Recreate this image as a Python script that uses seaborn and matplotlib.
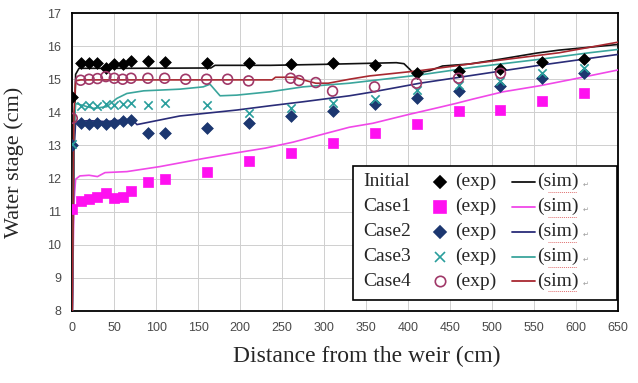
import numpy as np
import pandas as pd
import seaborn as sns
import matplotlib.pyplot as plt
from matplotlib.patches import Rectangle

# measured points (exp)
x_exp = [0, 10, 20, 30, 40, 50, 60, 70, 90, 110, 160, 210, 260, 310, 360, 410, 460, 510, 560, 610]
initial_exp = [14.47, 15.48, 15.48, 15.48, 15.33, 15.45, 15.45, 15.55, 15.55, 15.52,
               15.48, 15.50, 15.47, 15.50, 15.43, 15.20, 15.25, 15.31, 15.51, 15.60]
case1_exp = [11.07, 11.33, 11.37, 11.45, 11.55, 11.40, 11.45, 11.63, 11.89, 11.98,
             12.21, 12.54, 12.78, 13.06, 13.37, 13.64, 14.04, 14.07, 14.35, 14.59]
case2_exp = [13.00, 13.69, 13.65, 13.69, 13.65, 13.69, 13.75, 13.77, 13.38, 13.38,
             13.53, 13.67, 13.90, 14.04, 14.24, 14.42, 14.65, 14.80, 15.05, 15.18]
case3_exp = [13.05, 14.20, 14.22, 14.20, 14.25, 14.22, 14.25, 14.28, 14.22, 14.27,
             14.22, 13.97, 14.12, 14.27, 14.39, 14.67, 14.82, 14.95, 15.20, 15.33]
x_case4_exp = [0, 10, 20, 30, 40, 50, 60, 70, 90, 110, 135, 160, 185, 210, 260, 270, 290, 310, 360, 410, 460, 510]
case4_exp = [13.82, 14.97, 15.00, 15.02, 15.08, 15.03, 15.00, 15.03, 15.03, 15.03, 15.00,
             15.00, 15.00, 14.95, 15.03, 14.96, 14.90, 14.64, 14.77, 14.88, 15.03, 15.18]

# simulated profiles (sim)
x_initial_sim = [0, 2, 4, 8, 60, 165, 170, 236, 300, 386, 395, 402, 406, 418, 426, 441, 473, 513, 553, 580, 650]
initial_sim = [8.0, 13.0, 15.15, 15.33, 15.33, 15.34, 15.42, 15.42, 15.45, 15.50, 15.47,
               15.30, 15.18, 15.22, 15.26, 15.40, 15.46, 15.62, 15.79, 15.88, 16.05]
x_case1_sim = [0, 2, 4, 9, 20, 30, 39, 65, 104, 155, 196, 230, 263, 300, 330, 358, 398, 437, 457, 477, 513, 556, 596, 650]
case1_sim = [8.0, 11.3, 11.98, 12.08, 12.10, 12.06, 12.18, 12.21, 12.36, 12.60, 12.78, 12.92,
             13.10, 13.35, 13.55, 13.67, 13.92, 14.15, 14.27, 14.40, 14.62, 14.80, 15.00, 15.28]
x_case2_sim = [0, 2, 4, 20, 40, 60, 72, 77, 128, 196, 236, 275, 330, 354, 414, 477, 556, 650]
case2_sim = [8.0, 12.8, 13.72, 13.75, 13.72, 13.77, 13.77, 13.63, 13.89, 14.07, 14.20, 14.32,
             14.50, 14.60, 14.88, 15.12, 15.42, 15.75]
x_case3_sim = [0, 2, 4, 25, 41, 53, 65, 85, 128, 156, 164, 176, 196, 235, 275, 330, 354, 414, 477, 556, 616, 650]
case3_sim = [8.0, 13.5, 14.27, 14.12, 14.17, 14.42, 14.57, 14.65, 14.70, 14.77, 14.85, 14.50,
             14.52, 14.62, 14.77, 14.88, 14.95, 15.13, 15.36, 15.60, 15.80, 15.90]
x_case4_sim = [0, 2, 4, 10, 238, 242, 265, 275, 290, 305, 330, 354, 414, 473, 580, 650]
case4_sim = [8.0, 14.0, 14.95, 14.98, 14.98, 15.06, 15.06, 14.98, 14.88, 14.88, 15.00, 15.10,
             15.26, 15.46, 15.80, 16.12]

case_names = ['Initial', 'Case1', 'Case2', 'Case3', 'Case4']
x_ticks = list(range(0, 651, 50))
y_ticks = list(range(8, 18))

serif = ['Liberation Serif', 'DejaVu Serif']
sans = ['Liberation Sans Narrow', 'Liberation Sans', 'DejaVu Sans']

sns.set_style('white')
plt.rcParams['font.family'] = sans

fig, ax = plt.subplots(figsize=(6.38, 3.83), dpi=100)
fig.subplots_adjust(left=0.1133, right=0.9687, bottom=0.188, top=0.966)

styles = {
    'Initial': dict(marker='D', mc='#000000', lc='#111111', fill=True, s=36),
    'Case1': dict(marker='s', mc='#FF10F0', lc='#F048E8', fill=True, s=42),
    'Case2': dict(marker='D', mc='#1C3770', lc='#2A2C78', fill=True, s=36),
    'Case3': dict(marker='x', mc='#2A9E9C', lc='#3AA59C', fill=False, s=36),
    'Case4': dict(marker='o', mc='#A03868', lc='#A82830', fill=False, s=50),
}

sims = {
    'Initial': (x_initial_sim, initial_sim),
    'Case1': (x_case1_sim, case1_sim),
    'Case2': (x_case2_sim, case2_sim),
    'Case3': (x_case3_sim, case3_sim),
    'Case4': (x_case4_sim, case4_sim),
}
exps = {
    'Initial': (x_exp, initial_exp),
    'Case1': (x_exp, case1_exp),
    'Case2': (x_exp, case2_exp),
    'Case3': (x_exp, case3_exp),
    'Case4': (x_case4_exp, case4_exp),
}

for name in case_names:
    xs, ys = sims[name]
    sns.lineplot(x=xs, y=ys, ax=ax, color=styles[name]['lc'], lw=1.2,
                 sort=False, estimator=None, legend=False, zorder=3)

for name in case_names:
    st = styles[name]
    xs, ys = exps[name]
    if st['marker'] == 'o':
        ax.scatter(xs, ys, s=st['s'], marker='o', facecolors='none',
                   edgecolors=st['mc'], linewidths=1.2, zorder=4)
    elif st['marker'] == 'x':
        sns.scatterplot(x=xs, y=ys, ax=ax, marker='x', s=st['s'], color=st['mc'],
                        linewidth=1.2, legend=False, zorder=4)
    else:
        sns.scatterplot(x=xs, y=ys, ax=ax, marker=st['marker'], s=st['s'],
                        color=st['mc'], edgecolor=st['mc'], linewidth=0.5,
                        legend=False, zorder=4)

ax.set_xlim(0, 650)
ax.set_ylim(8, 17)
ax.set_xticks(x_ticks)
ax.set_yticks(y_ticks)
ax.grid(True, color='#CFCFCF', lw=0.7)
ax.set_axisbelow(True)
for sp in ax.spines.values():
    sp.set_color('black')
    sp.set_linewidth(1.3)
ax.tick_params(axis='both', direction='in', length=3, width=0.8, color='#555555',
               labelsize=9, labelcolor='#4A4A4A', pad=8)

ax.set_xlabel('Distance from the weir (cm)', family=serif, fontsize=17)
ax.set_ylabel('Water stage (cm)', family=serif, fontsize=16)
ax.xaxis.set_label_coords(0.54, -0.118)
ax.yaxis.set_label_coords(-0.088, 0.5)

# legend drawn as a boxed table: name, marker (exp), line (sim)
tr = ax.transAxes
ax.add_patch(Rectangle((0.515, 0.037), 0.4826, 0.4496, transform=tr,
                       facecolor='white', edgecolor='black', lw=1.2, zorder=6))
row_y = [0.434, 0.350, 0.266, 0.182, 0.100]
for name, yy in zip(case_names, row_y):
    st = styles[name]
    ax.text(0.534, yy, name, transform=tr, family=serif, fontsize=14,
            va='center', ha='left', zorder=7)
    ms = {'D': 6.5, 's': 8, 'x': 6.5, 'o': 7.5}[st['marker']]
    ax.plot([0.674], [yy], transform=tr, marker=st['marker'], ms=ms, ls='none',
            color=st['mc'], mfc=st['mc'] if st['fill'] else 'none', mew=1.2, zorder=7)
    ax.text(0.702, yy, '(exp)', transform=tr, family=serif, fontsize=14,
            va='center', ha='left', zorder=7)
    ax.plot([0.805, 0.848], [yy, yy], transform=tr, color=st['lc'], lw=1.3, zorder=7)
    ax.text(0.852, yy, '(sim)', transform=tr, family=serif, fontsize=14,
            va='center', ha='left', zorder=7)
    ax.plot([0.872, 0.925], [yy - 0.033, yy - 0.033], transform=tr, color='#E07070',
            lw=0.7, ls=(0, (1, 1)), zorder=7)
    ax.text(0.935, yy - 0.01, '\u21b5', transform=tr, family=['DejaVu Sans'], fontsize=5,
            color='#999999', va='center', ha='left', zorder=7)

fig.savefig('out.png', dpi=100)
